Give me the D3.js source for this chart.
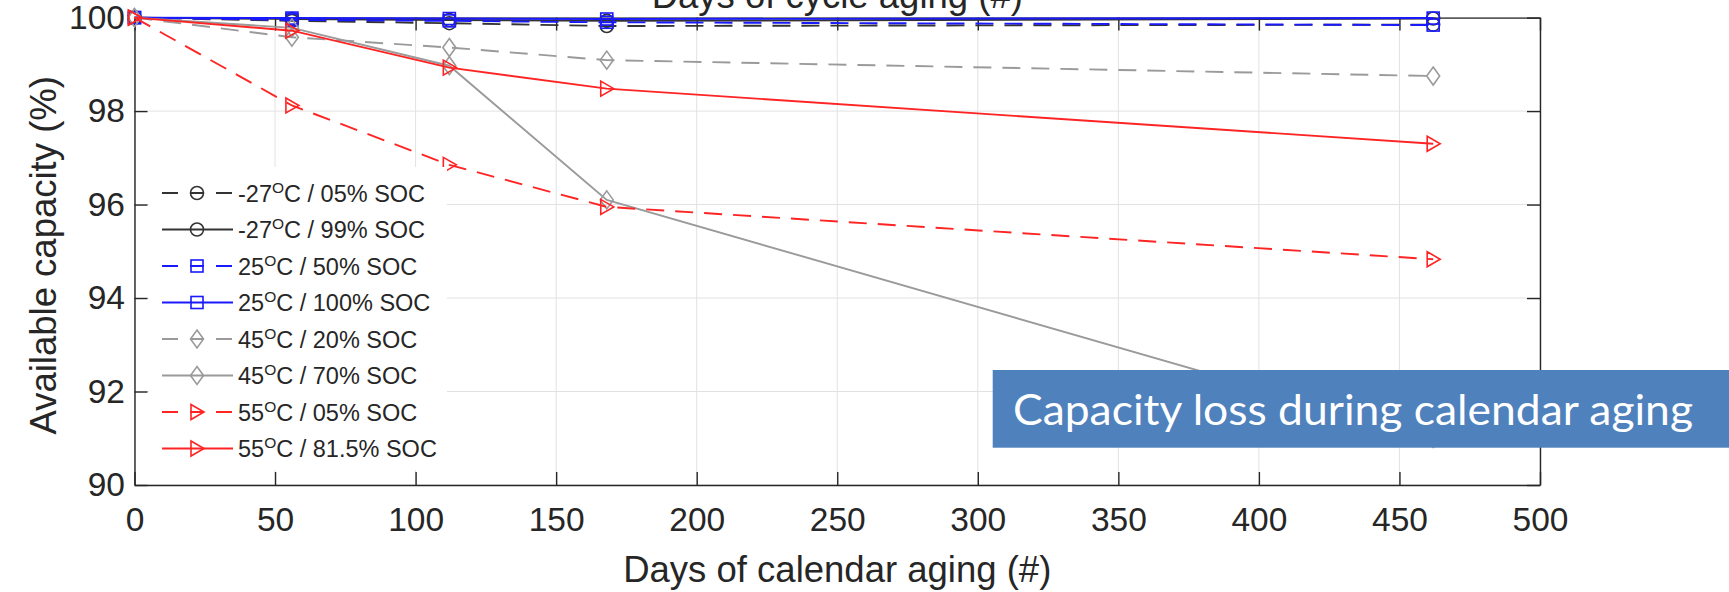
<!DOCTYPE html>
<html>
<head>
<meta charset="utf-8">
<script src="https://cdn.jsdelivr.net/npm/d3@7"></script>
<style>
  html, body { margin: 0; padding: 0; background: #fff; }
  svg { display: block; }
</style>
</head>
<body>
<svg id="chart" width="1729" height="592"></svg>
<script>
// Storage days at which capacity was measured
const days = [0, 56, 112, 168, 462];

// Available capacity (%) for each storage condition
const capM27Soc05 = [100, 99.93, 99.88, 99.82, 99.85];
const capM27Soc99 = [100, 99.97, 99.95, 99.93, 99.98];
const cap25Soc50  = [100, 99.95, 99.93, 99.90, 99.84];
const cap25Soc100 = [100, 99.99, 99.98, 99.97, 99.99];
const cap45Soc20  = [100, 99.58, 99.36, 99.09, 98.75];
const cap45Soc70  = [100, 99.78, 98.97, 96.10, 91.00];
const cap55Soc05  = [100, 98.12, 96.85, 95.95, 94.83];
const cap55Soc815 = [100, 99.72, 98.93, 98.48, 97.30];

// Legend label parts: temperature and state of charge
const legendTemps = ["-27", "-27", "25", "25", "45", "45", "55", "55"];
const legendSocs  = ["05%", "99%", "50%", "100%", "20%", "70%", "05%", "81.5%"];

// Axis ticks
const xTicks = [0, 50, 100, 150, 200, 250, 300, 350, 400, 450, 500];
const yTicks = [90, 92, 94, 96, 98, 100];

const seriesValues = [capM27Soc05, capM27Soc99, cap25Soc50, cap25Soc100,
                      cap45Soc20, cap45Soc70, cap55Soc05, cap55Soc815];
const seriesStyle = [
  { color: "#333333", dashed: true,  marker: "circle" },
  { color: "#333333", dashed: false, marker: "circle" },
  { color: "#1a1aff", dashed: true,  marker: "square" },
  { color: "#1a1aff", dashed: false, marker: "square" },
  { color: "#9a9a9a", dashed: true,  marker: "diamond" },
  { color: "#9a9a9a", dashed: false, marker: "diamond" },
  { color: "#ff2424", dashed: true,  marker: "triangle" },
  { color: "#ff2424", dashed: false, marker: "triangle" }
];

const svg = d3.select("#chart");
const FONT = "'Liberation Sans', Arial, Helvetica, sans-serif";
const INK = "#262626";

const plotLeft = 134.5, plotRight = 1540, plotTop = 17.6, plotBottom = 485;
const x = d3.scaleLinear().domain([0, 500]).range([plotLeft, plotRight]);
const y = d3.scaleLinear().domain([90, 100]).range([plotBottom, plotTop]);

// Grid
const grid = svg.append("g").attr("stroke", "#e2e2e2").attr("stroke-width", 1);
grid.selectAll("line.gx").data(xTicks).join("line")
  .attr("class", "gx")
  .attr("x1", d => x(d)).attr("x2", d => x(d))
  .attr("y1", plotTop).attr("y2", plotBottom);
grid.selectAll("line.gy").data(yTicks).join("line")
  .attr("class", "gy")
  .attr("x1", plotLeft).attr("x2", plotRight)
  .attr("y1", d => y(d)).attr("y2", d => y(d));

// Marker shapes (open symbols)
function drawMarker(g, type, color, cx, cy) {
  const common = s => s.attr("fill", "none").attr("stroke", color).attr("stroke-width", 1.6);
  if (type === "circle") {
    common(g.append("circle").attr("cx", cx).attr("cy", cy).attr("r", 6.5));
  } else if (type === "square") {
    common(g.append("rect").attr("x", cx - 6).attr("y", cy - 6).attr("width", 12).attr("height", 12));
  } else if (type === "diamond") {
    common(g.append("path").attr("d", `M${cx},${cy - 9}L${cx + 6.5},${cy}L${cx},${cy + 9}L${cx - 6.5},${cy}Z`));
  } else {
    common(g.append("path").attr("d", `M${cx - 6},${cy - 7.5}L${cx + 7},${cy}L${cx - 6},${cy + 7.5}Z`));
  }
}

// Axes with inward ticks on all four sides
const axisStyle = g => {
  g.select(".domain").attr("stroke", INK).attr("stroke-width", 1.4);
  g.selectAll(".tick line").attr("stroke", INK).attr("stroke-width", 1.4);
  g.selectAll(".tick text").attr("fill", INK).attr("font-family", FONT).attr("font-size", 33.5);
};
svg.append("g").attr("transform", `translate(0,${plotBottom})`)
  .call(d3.axisBottom(x).tickValues(xTicks).tickSizeInner(-13).tickSizeOuter(0).tickPadding(22))
  .call(axisStyle);
svg.append("g").attr("transform", `translate(${plotLeft},0)`)
  .call(d3.axisLeft(y).tickValues(yTicks).tickSizeInner(-13).tickSizeOuter(0).tickPadding(9.5))
  .call(axisStyle);
svg.append("g").attr("transform", `translate(0,${plotTop})`)
  .call(d3.axisTop(x).tickValues(xTicks).tickSizeInner(-13).tickSizeOuter(0).tickFormat(""))
  .call(axisStyle);
svg.append("g").attr("transform", `translate(${plotRight},0)`)
  .call(d3.axisRight(y).tickValues(yTicks).tickSizeInner(-13).tickSizeOuter(0).tickFormat(""))
  .call(axisStyle);

// Series lines and markers
const line = d3.line().x(d => x(d[0])).y(d => y(d[1]));
const plot = svg.append("g");
seriesValues.forEach((vals, i) => {
  const st = seriesStyle[i];
  const pts = days.map((d, k) => [d, vals[k]]);
  plot.append("path")
    .attr("d", line(pts))
    .attr("fill", "none")
    .attr("stroke", st.color)
    .attr("stroke-width", 1.9)
    .attr("stroke-dasharray", st.dashed ? "18,11" : null);
  const mg = plot.append("g");
  pts.forEach(p => drawMarker(mg, st.marker, st.color, x(p[0]), y(p[1])));
});

// Axis titles
svg.append("text")
  .attr("x", (plotLeft + plotRight) / 2).attr("y", 582)
  .attr("text-anchor", "middle")
  .attr("font-family", FONT).attr("font-size", 36.5).attr("fill", INK)
  .text("Days of calendar aging (#)");
svg.append("text")
  .attr("x", (plotLeft + plotRight) / 2).attr("y", 8)
  .attr("text-anchor", "middle")
  .attr("font-family", FONT).attr("font-size", 36.5).attr("fill", INK)
  .text("Days of cycle aging (#)");
svg.append("text")
  .attr("transform", `translate(56,${(plotTop + plotBottom) / 2 + 4}) rotate(-90)`)
  .attr("text-anchor", "middle")
  .attr("font-family", FONT).attr("font-size", 36.5).attr("fill", INK)
  .text("Available capacity (%)");

// Legend
const legend = svg.append("g");
legend.append("rect")
  .attr("x", 149).attr("y", 167).attr("width", 298).attr("height", 303)
  .attr("fill", "#fff");
const rowY0 = 193, rowStep = 36.5;
seriesStyle.forEach((st, i) => {
  const ry = rowY0 + i * rowStep;
  legend.append("line")
    .attr("x1", 162).attr("x2", 233).attr("y1", ry).attr("y2", ry)
    .attr("stroke", st.color).attr("stroke-width", 1.9)
    .attr("stroke-dasharray", st.dashed ? "16,12,14,12" : null);
  drawMarker(legend, st.marker, st.color, 197, ry);
  const t = legend.append("text")
    .attr("x", 238).attr("y", ry + 8.5)
    .attr("font-family", FONT).attr("font-size", 23.5).attr("fill", INK);
  t.append("tspan").text(legendTemps[i]);
  t.append("tspan").attr("font-size", 15.5).attr("dy", -9).text("O");
  t.append("tspan").attr("dy", 9).text("C / " + legendSocs[i] + " SOC");
});

// Callout box
const note = svg.append("g");
note.append("rect")
  .attr("x", 992.7).attr("y", 370).attr("width", 1729 - 992.7).attr("height", 77.7)
  .attr("fill", "#4f81bd");
note.append("text")
  .attr("x", 1013).attr("y", 425)
  .attr("font-family", "Lato, 'Open Sans', sans-serif").attr("font-size", 42)
  .attr("fill", "#fff")
  .attr("textLength", 680).attr("lengthAdjust", "spacingAndGlyphs")
  .text("Capacity loss during calendar aging");
</script>
</body>
</html>
